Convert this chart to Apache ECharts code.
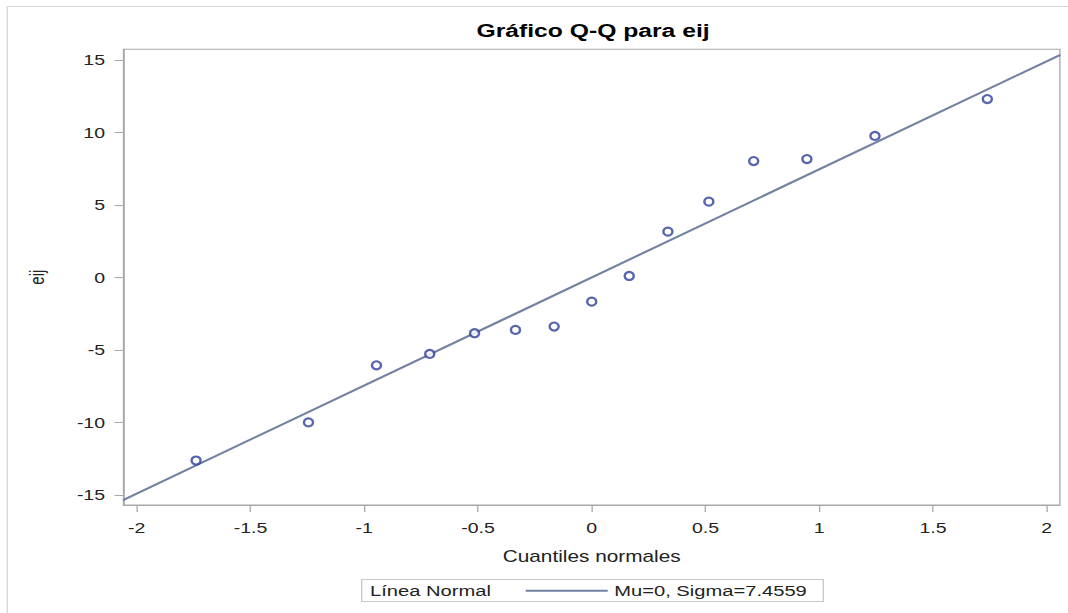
<!DOCTYPE html>
<html>
<head>
<meta charset="utf-8">
<script src="https://cdn.jsdelivr.net/npm/echarts@6/dist/echarts.min.js"></script>
<style>
html,body{margin:0;padding:0;background:#fff;overflow:hidden;}
#wrap{width:1068px;height:613px;overflow:hidden;position:relative;}
/* reference output is horizontally stretched: draw at 1/1.3 width and stretch */
#c{width:821.54px;height:613px;transform:scaleX(1.3);transform-origin:0 0;}
</style>
</head>
<body>
<div id="wrap"><div id="c"></div></div>
<script>
// Normal quantiles (x) and observed residuals eij (y)
var quantiles = [-1.739, -1.245, -0.946, -0.712, -0.515, -0.335, -0.165, 0, 0.165, 0.335, 0.515, 0.712, 0.946, 1.245, 1.739];
var eij = [-12.63, -10.0, -6.06, -5.28, -3.85, -3.62, -3.39, -1.67, 0.10, 3.16, 5.23, 8.03, 8.17, 9.76, 12.31];
// Reference normal line (Mu=0, Sigma=7.4559) endpoints
var lineX = [-2.06, 2.06];
var lineY = [-15.36, 15.36];
var xTicks = [-2, -1.5, -1, -0.5, 0, 0.5, 1, 1.5, 2];
var yTicks = [-15, -10, -5, 0, 5, 10, 15];
var legendName = 'Mu=0, Sigma=7.4559';

var pts = quantiles.map(function (q, i) { return [q, eij[i]]; });
var linePts = lineX.map(function (x, i) { return [x, lineY[i]]; });

var S = 1.3;
var font = 'Liberation Sans, Arial, sans-serif';
var axisCol = '#a8a8a8';
var chart = echarts.init(document.getElementById('c'), null, { renderer: 'svg' });
chart.setOption({
  animation: false,
  backgroundColor: '#fff',
  textStyle: { fontFamily: font },
  title: {
    text: 'Gráfico Q-Q para eij',
    left: 470 / S,
    top: 16,
    textStyle: { fontFamily: font, fontSize: 19, fontWeight: 'bold', color: '#000' }
  },
  grid: {
    left: 123.5 / S, right: 8.7 / S, top: 49.3, bottom: 108,
    show: true, borderColor: axisCol, borderWidth: 1
  },
  xAxis: {
    type: 'value',
    min: -2.058, max: 2.058,
    name: 'Cuantiles normales',
    nameLocation: 'middle',
    nameGap: 43,
    nameTextStyle: { fontFamily: font, fontSize: 16, color: '#222' },
    axisLine: { show: true, onZero: false, lineStyle: { color: axisCol } },
    axisTick: { show: true, length: 7, customValues: xTicks, lineStyle: { color: axisCol } },
    axisLabel: { customValues: xTicks, margin: 15, fontSize: 15, color: '#222', fontFamily: font },
    splitLine: { show: false }
  },
  yAxis: {
    type: 'value',
    min: -15.7, max: 15.74,
    name: 'eij',
    nameLocation: 'middle',
    nameGap: 59,
    nameRotate: 90,
    nameTextStyle: { fontFamily: font, fontSize: 15, color: '#222' },
    axisLine: { show: true, onZero: false, lineStyle: { color: axisCol } },
    axisTick: { show: true, length: 9 / S, customValues: yTicks, lineStyle: { color: axisCol } },
    axisLabel: { customValues: yTicks, margin: 14.2, fontSize: 15, color: '#222', fontFamily: font },
    splitLine: { show: false }
  },
  legend: {
    data: [{ name: legendName, icon: 'rect' }],
    left: 525.7 / S - 5, top: 577.7,
    itemWidth: 82 / S, itemHeight: 2, itemGap: 10,
    textStyle: { fontFamily: font, fontSize: 15.5, color: '#222' }
  },
  graphic: [
    { type: 'rect', shape: { x: 7.3 / S, y: 6.5, width: 1000, height: 700 }, style: { fill: 'none', stroke: '#d8d8d8', lineWidth: 1 }, silent: true, z: -10 },
    { type: 'rect', shape: { x: 361.7 / S, y: 579.5, width: 461.6 / S, height: 22 }, style: { fill: 'none', stroke: '#c8c8c8', lineWidth: 1 }, silent: true },
    { type: 'text', left: 370 / S, top: 582.7, style: { text: 'Línea Normal', font: '15.5px ' + font, fill: '#222' }, silent: true }
  ],
  series: [
    {
      name: legendName,
      type: 'line',
      data: linePts,
      showSymbol: false,
      symbol: 'none',
      clip: true,
      lineStyle: { color: '#7282a0', width: 2 },
      itemStyle: { color: '#7282a0' },
      z: 2
    },
    {
      name: 'eij',
      type: 'scatter',
      data: pts,
      symbol: 'emptyCircle',
      symbolSize: [7, 8],
      itemStyle: { color: '#2c3e9a', borderColor: '#2c3e9a', borderWidth: 1.4 },
      z: 3
    }
  ]
});
</script>
</body>
</html>
